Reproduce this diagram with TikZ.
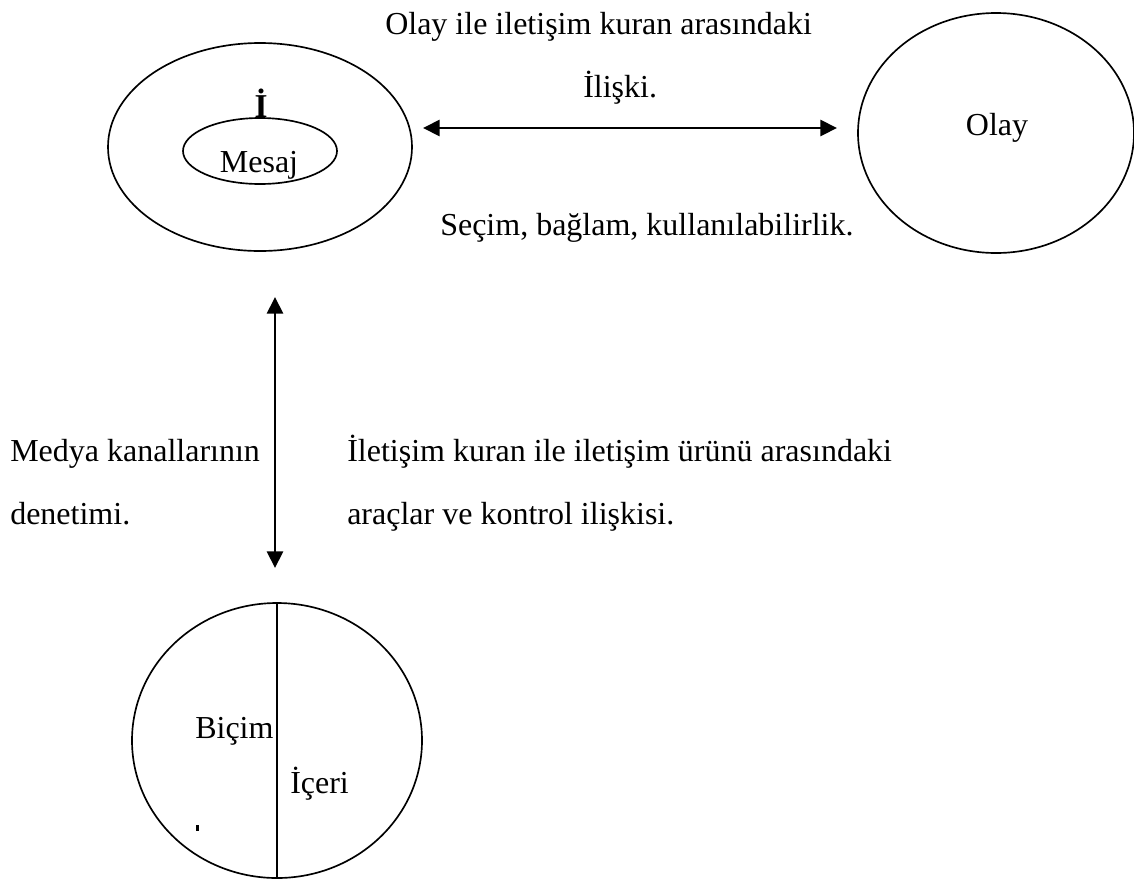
\documentclass[tikz,border=0pt]{standalone}
\usepackage{fontspec}
\setmainfont{Liberation Serif}
\usetikzlibrary{shapes.geometric,arrows.meta}
\begin{document}
\begin{tikzpicture}[x=0.75pt,y=-0.75pt,
  lbl/.style={inner sep=0pt, anchor=base west, font=\fontsize{24}{28}\selectfont},
  clbl/.style={inner sep=0pt, anchor=base, font=\fontsize{24}{28}\selectfont},
  oval/.style={draw, ellipse, line width=1.25pt, inner sep=0pt},
  dbl/.style={line width=2.1pt, {Triangle[length=12.5pt,width=12pt]}-{Triangle[length=12.5pt,width=12pt]}}]
\useasboundingbox (0,0) rectangle (1134,886);
% shapes
\node[oval, minimum width=228pt, minimum height=156pt] (outer) at (260,147) {};
\node[oval, minimum width=115.5pt, minimum height=49.5pt] (inner) at (260,151) {};
\node[oval, minimum width=207pt, minimum height=180pt] (olay) at (996,133) {};
\node[oval, minimum width=217.5pt, minimum height=206.25pt] (form) at (277,740.5) {};
\draw[line width=1.4pt] (form.north) -- (form.south);
% texts in shapes
\node[clbl, font=\fontsize{25}{28}\selectfont\bfseries] (ibig) at (261,117) {İ};
\node[clbl] (mesaj) at (259,172) {Mesaj};
\node[clbl] (olaytxt) at (997,135) {Olay};
\node[lbl] (bicim) at (195,738) {Biçim};
\node[lbl] (iceri) at (290,793) {İçeri};
\fill (195.5,825) rectangle (198.5,831);
% connector labels
\node[lbl] (t1) at (385,34) {Olay ile iletişim kuran arasındaki};
\node[lbl] (t2) at (583,97) {İlişki.};
\node[lbl] (t3) at (440,235) {Seçim, bağlam, kullanılabilirlik.};
\node[lbl] (t4) at (10,461) {Medya kanallarının};
\node[lbl] (t5) at (10,524) {denetimi.};
\node[lbl] (t6) at (347,461) {İletişim kuran ile iletişim ürünü arasındaki};
\node[lbl] (t7) at (347,524) {araçlar ve kontrol ilişkisi.};
% connectors
\coordinate (hL) at (423,128);
\coordinate (hR) at (837,128);
\coordinate (vT) at (275,297);
\coordinate (vB) at (275,568);
\draw[dbl] (hL) -- (hR);
\draw[dbl] (vT) -- (vB);
\end{tikzpicture}
\end{document}
